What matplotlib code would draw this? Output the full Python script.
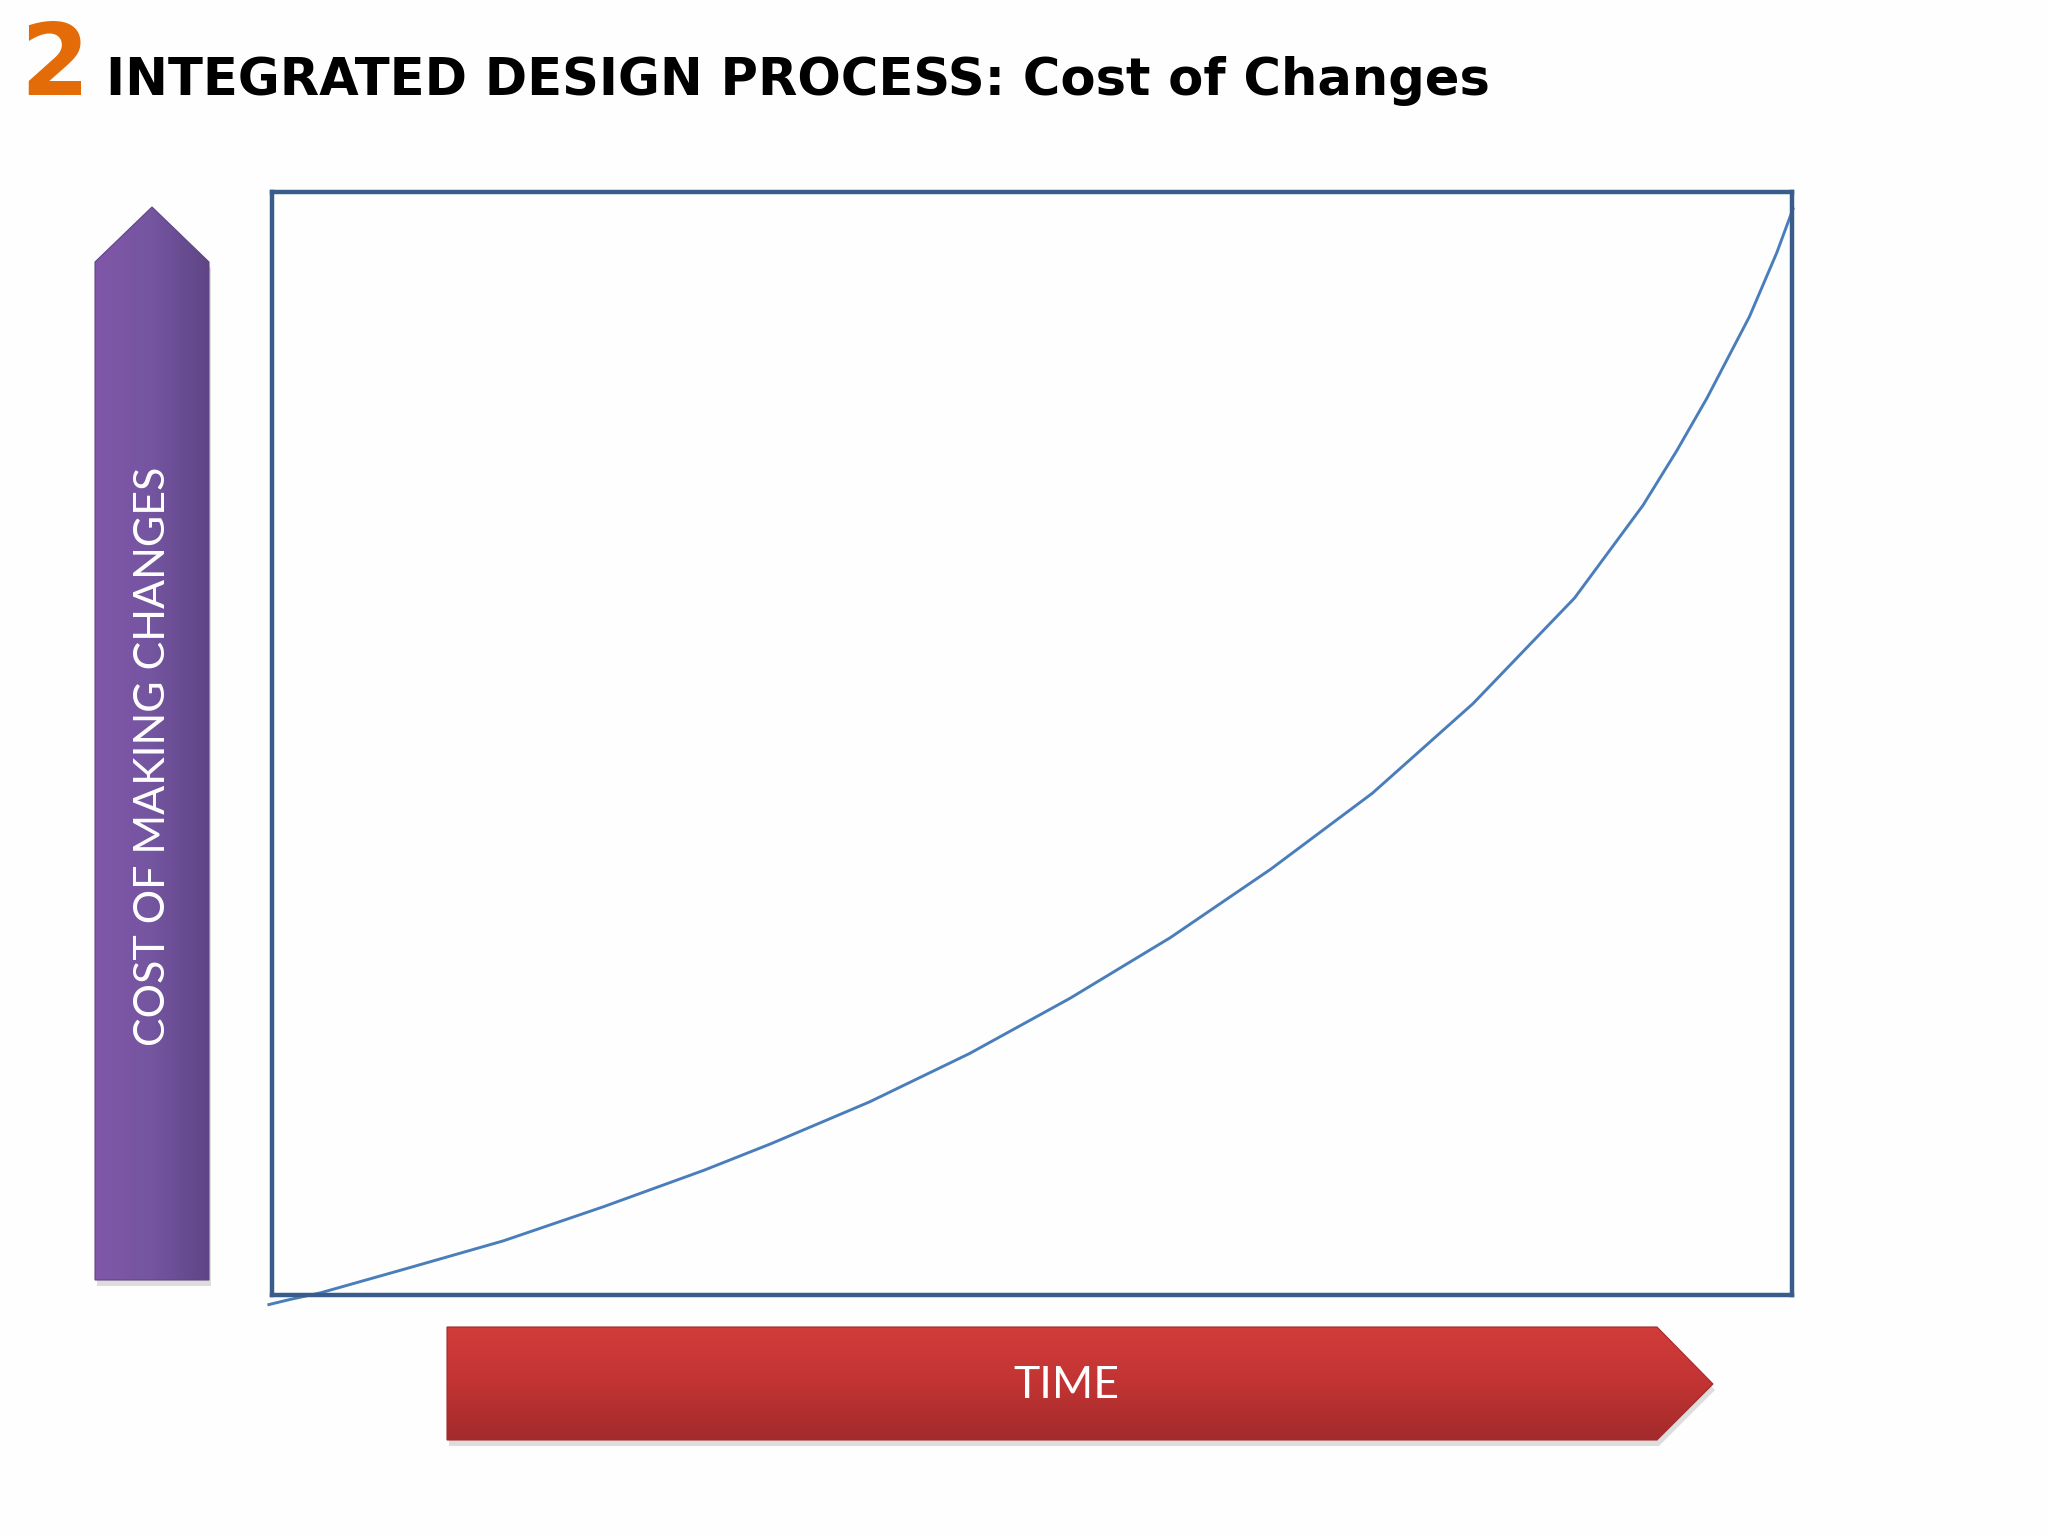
import numpy as np
import matplotlib
matplotlib.use("Agg")
import matplotlib.pyplot as plt
from matplotlib.patches import Polygon
from matplotlib.colors import LinearSegmentedColormap

# ---- data (time in % of the period, cost in % of the frame height) ----
time_pct = [-0.3, 1.2, 3.2, 8.6, 15.2, 21.8, 28.4, 32.8, 39.3, 45.9, 52.5,
            59.1, 65.7, 72.4, 79.0, 85.7, 90.2, 92.4, 94.4, 97.2, 99.0, 100.1]
cost_pct = [-0.9, -0.4, 0.2, 2.3, 4.9, 8.0, 11.3, 13.7, 17.5, 21.9, 26.9,
            32.4, 38.6, 45.5, 53.6, 63.2, 71.6, 76.5, 81.3, 88.7, 94.5, 98.6]

title_num = "2"
title_text = "INTEGRATED DESIGN PROCESS: Cost of Changes"
y_label = "COST OF MAKING CHANGES"
x_label = "TIME"

W, H = 2048, 1536
fig = plt.figure(figsize=(W / 100, H / 100), dpi=100)
fig.patch.set_facecolor("#fefefe")

# decoration layer in pixel coordinates
deco = fig.add_axes([0, 0, 1, 1], zorder=0)
deco.set_xlim(0, W)
deco.set_ylim(H, 0)
deco.axis("off")

def gradient_arrow(pts, colors, horizontal, extent):
    shadow = Polygon([(x + 2, y + 6) for x, y in pts], closed=True,
                     facecolor="#c8c8c8", edgecolor="none", alpha=0.6, zorder=1)
    deco.add_patch(shadow)
    poly = Polygon(pts, closed=True, facecolor="none",
                   edgecolor=colors[-1], lw=0.8, zorder=3)
    deco.add_patch(poly)
    g = np.linspace(0, 1, 256)
    grad = g.reshape(1, -1) if horizontal else g.reshape(-1, 1)
    cmap = LinearSegmentedColormap.from_list("g", colors)
    im = deco.imshow(grad, cmap=cmap, extent=extent, origin="upper",
                     aspect="auto", zorder=2, interpolation="bilinear")
    im.set_clip_path(poly)

# purple vertical arrow (cost)
gradient_arrow([(95, 1280), (95, 262), (152, 207), (209, 262), (209, 1280)],
               ["#8157a9", "#7455a0", "#5f4586"], True, [95, 209, 1280, 207])
# red horizontal arrow (time)
gradient_arrow([(447, 1327), (1657, 1327), (1713, 1384), (1657, 1440), (447, 1440)],
               ["#d23c3a", "#c13433", "#a32a2b"], False, [447, 1713, 1440, 1327])

deco.text(153, 756, y_label, rotation=90, ha="center", va="center",
          color="white", fontsize=31, family=["Lato", "DejaVu Sans"], zorder=4)
deco.text(1066, 1386, x_label, ha="center", va="center",
          color="white", fontsize=32, family=["Lato", "DejaVu Sans"], zorder=4)

# title
deco.text(20, 95, title_num, ha="left", va="baseline", color="#e36c09",
          fontsize=71, fontweight="bold", family=["DejaVu Sans"], zorder=4)
deco.text(106, 95, title_text, ha="left", va="baseline", color="black",
          fontsize=36.8, fontweight="bold", family=["DejaVu Sans"], zorder=4)

# chart frame
left, right, top, bottom = 272, 1792, 192, 1295
ax = fig.add_axes([left / W, 1 - bottom / H, (right - left) / W, (bottom - top) / H],
                  zorder=5)
ax.set_facecolor("none")
ax.set_xlim(0, 100)
ax.set_ylim(0, 100)
for s in ax.spines.values():
    s.set_color("#385d8a")
    s.set_linewidth(3.2)
    s.set_capstyle("projecting")
ax.set_xticks([])
ax.set_yticks([])

ax.plot(time_pct, cost_pct, color="#4a7ebb", lw=2.1, clip_on=False,
        solid_capstyle="butt", solid_joinstyle="round")

fig.savefig("out.png", dpi=100, facecolor=fig.get_facecolor())
